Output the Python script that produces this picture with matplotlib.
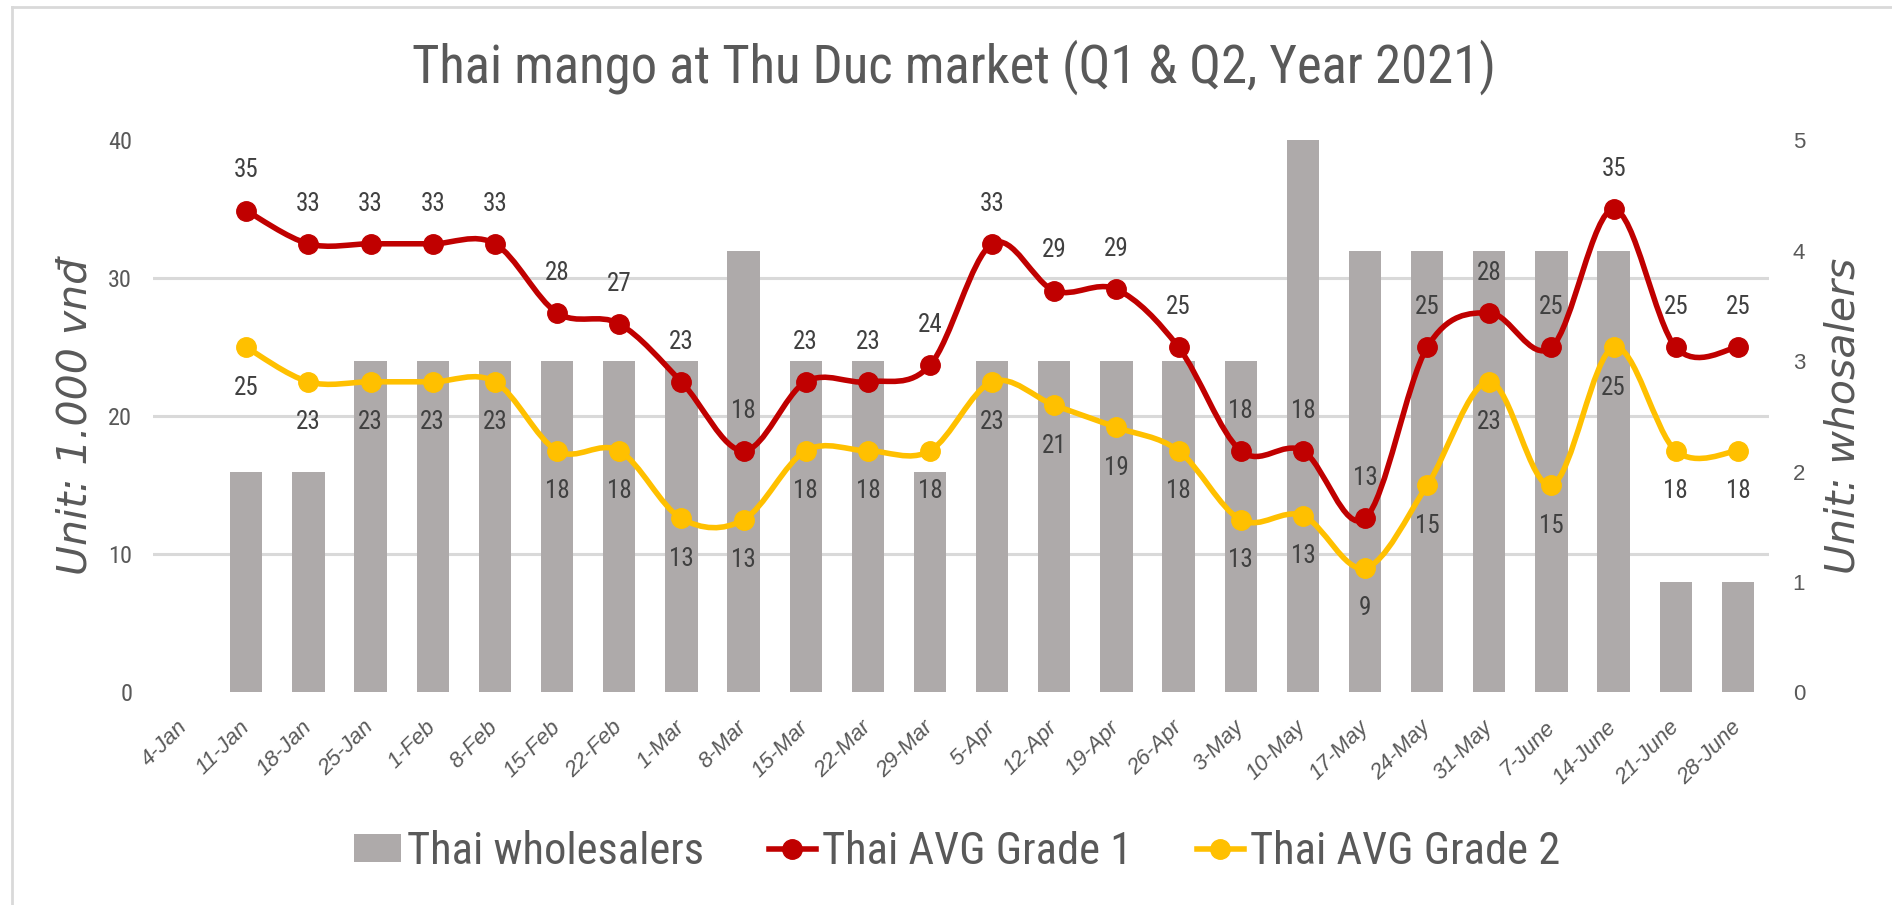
import numpy as np
import matplotlib
matplotlib.use("Agg")
import matplotlib.pyplot as plt
from matplotlib import font_manager
from matplotlib.path import Path
from matplotlib.patches import PathPatch, Patch
from matplotlib.lines import Line2D

weeks = ["4-Jan", "11-Jan", "18-Jan", "25-Jan", "1-Feb", "8-Feb", "15-Feb", "22-Feb",
         "1-Mar", "8-Mar", "15-Mar", "22-Mar", "29-Mar", "5-Apr", "12-Apr", "19-Apr",
         "26-Apr", "3-May", "10-May", "17-May", "24-May", "31-May", "7-June", "14-June",
         "21-June", "28-June"]
wholesalers = [0, 2, 2, 3, 3, 3, 3, 3, 3, 4, 3, 3, 2, 3, 3, 3, 3, 3, 5, 4, 4, 4, 4, 4, 1, 1]
grade1 = [np.nan, 34.9, 32.5, 32.5, 32.5, 32.5, 27.5, 26.7, 22.5, 17.5, 22.5, 22.5, 23.7,
          32.5, 29.1, 29.2, 25.0, 17.5, 17.5, 12.6, 25.0, 27.5, 25.0, 35.0, 25.0, 25.0]
grade2 = [np.nan, 25.0, 22.5, 22.5, 22.5, 22.5, 17.5, 17.5, 12.6, 12.5, 17.5, 17.5, 17.5,
          22.5, 20.8, 19.2, 17.5, 12.5, 12.8, 9.0, 15.0, 22.5, 15.0, 25.0, 17.5, 17.5]
left_ticks = [0, 10, 20, 30, 40]
right_ticks = [0, 1, 2, 3, 4, 5]

GRAY_TXT = "#595959"
LBL_TXT = "#404040"
GRID = "#D9D9D9"
BAR = "#AEAAAA"
RED = "#C00000"
YEL = "#FFC000"

installed = {f.name for f in font_manager.fontManager.ttflist}


def pick(*names):
    for n in names:
        if n in installed:
            return [n, "DejaVu Sans"]
    return ["DejaVu Sans"]


NARROW = pick("Liberation Sans Narrow", "Arial Narrow", "Roboto Condensed", "Liberation Sans")
ARIAL = pick("Liberation Sans", "Arimo")
VERDANA = ["DejaVu Sans"]


def smooth_path(xs, ys):
    # Excel style smoothed line: Catmull-Rom converted to cubic Bezier segments
    n = len(xs)
    verts = [(xs[0], ys[0])]
    codes = [Path.MOVETO]
    for i in range(n - 1):
        a = max(i - 1, 0)
        b = min(i + 2, n - 1)
        c1 = (xs[i] + (xs[i + 1] - xs[a]) / 6, ys[i] + (ys[i + 1] - ys[a]) / 6)
        c2 = (xs[i + 1] - (xs[b] - xs[i]) / 6, ys[i + 1] - (ys[b] - ys[i]) / 6)
        verts += [c1, c2, (xs[i + 1], ys[i + 1])]
        codes += [Path.CURVE4] * 3
    return Path(verts, codes)


fig = plt.figure(figsize=(18.92, 9.05), dpi=100)
ax = fig.add_axes([0.0809, 0.235, 0.8541, 0.61])
ax2 = ax.twinx()

x = np.arange(len(weeks))

# bars on the primary axes (right-hand scale), lines on the twin (left-hand scale)
ax.bar(x, wholesalers, width=0.52, color=BAR, zorder=2)
ax.set_ylim(0, 5)
ax.set_xlim(-0.5, len(weeks) - 0.5)
ax.yaxis.tick_right()
ax.set_yticks(right_ticks)
ax.set_yticks(np.array(left_ticks) / 8.0, minor=True)
ax.grid(which="minor", axis="y", color=GRID, linewidth=2.2, zorder=0)
ax.set_axisbelow(True)
ax.tick_params(axis="y", which="both", length=0, pad=17, labelsize=16, labelcolor=GRAY_TXT)

ax.set_xticks(x)
ax.set_xticklabels(weeks)
ax.tick_params(axis="x", length=0, pad=23, labelsize=16, labelcolor=GRAY_TXT,
               labelrotation=45)
for t in ax.get_xticklabels():
    t.set(ha="right", va="center", rotation_mode="anchor", style="italic", family=ARIAL)
for t in ax.get_yticklabels():
    t.set_family(ARIAL)

ax2.set_ylim(0, 40)
ax2.yaxis.tick_left()
ax2.set_yticks(left_ticks)
ax2.tick_params(axis="y", length=0, pad=15, labelsize=17.5, labelcolor=GRAY_TXT)
for t in ax2.get_yticklabels():
    t.set_family(NARROW)

for a in (ax, ax2):
    for s in a.spines.values():
        s.set_visible(False)

for vals, col, off in ((grade1, RED, 29), (grade2, YEL, -29)):
    v = np.array(vals, dtype=float)
    ok = ~np.isnan(v)
    xs, ys = x[ok], v[ok]
    ax2.add_patch(PathPatch(smooth_path(xs, ys), fill=False, edgecolor=col, linewidth=4,
                            capstyle="round", joinstyle="round", zorder=3))
    ax2.plot(xs, ys, linestyle="none", marker="o", markersize=14, color=col, zorder=4)
    for xi, yi in zip(xs, ys):
        ax2.annotate(str(int(np.floor(yi + 0.5))), (xi, yi), xytext=(0, off),
                     textcoords="offset points", ha="center", va="center",
                     fontsize=18, color=LBL_TXT, family=NARROW, zorder=5)

ax2.set_ylabel("Unit: 1.000 vnđ", fontsize=29.5, style="italic", color=GRAY_TXT,
               family=VERDANA)
ax2.yaxis.set_label_position("left")
ax2.yaxis.set_label_coords(-0.0365, 0.5)
ax.set_ylabel("Unit: whosalers", fontsize=29.5, style="italic", color=GRAY_TXT,
              family=VERDANA)
ax.yaxis.set_label_position("right")
ax.yaxis.set_label_coords(1.0335, 0.5)

title = fig.text(0.504, 0.926, "Thai mango at Thu Duc market (Q1 & Q2, Year 2021)",
                 ha="center", va="center", fontsize=36, color=GRAY_TXT, family=NARROW)
# the original uses a condensed face; shrink to the same rendered width
renderer = fig.canvas.get_renderer()
w = title.get_window_extent(renderer).width
title.set_fontsize(title.get_fontsize() * 1084.0 / w)

handles = [Patch(facecolor=BAR, edgecolor="none"),
           Line2D([], [], color=RED, linewidth=4, marker="o", markersize=14),
           Line2D([], [], color=YEL, linewidth=4, marker="o", markersize=14)]
labels = ["Thai wholesalers", "Thai AVG Grade 1", "Thai AVG Grade 2"]
leg = fig.legend(handles, labels, loc="center", bbox_to_anchor=(0.506, 0.059), ncol=3,
                 frameon=False, handlelength=1.05, handleheight=0.6, handletextpad=0.15,
                 columnspacing=1.45, prop={"family": NARROW, "size": 32})
for t in leg.get_texts():
    t.set_color(GRAY_TXT)

# chart-area border (left and top edges visible)
fig.add_artist(Line2D([0.0063, 0.0063], [0, 0.992], transform=fig.transFigure,
                      color=GRID, linewidth=2))
fig.add_artist(Line2D([0.0063, 1.0], [0.992, 0.992], transform=fig.transFigure,
                      color=GRID, linewidth=2))

fig.savefig("out.png", dpi=100, facecolor="white")
